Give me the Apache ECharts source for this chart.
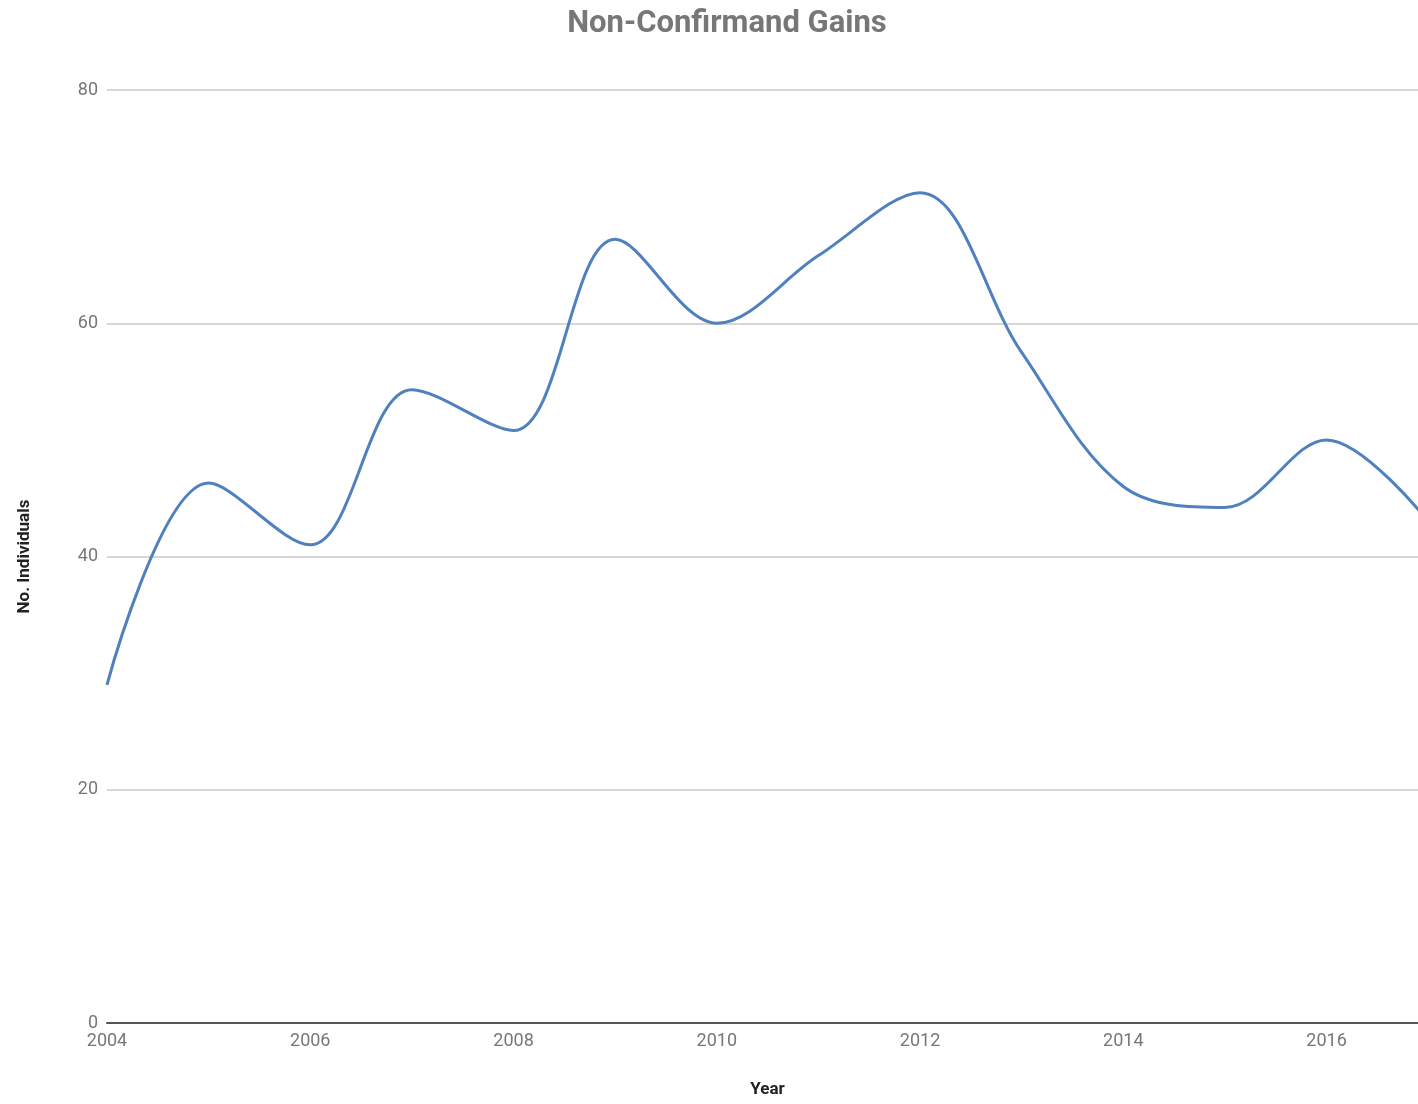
<!DOCTYPE html>
<html>
<head>
<meta charset="utf-8">
<script src="https://cdn.jsdelivr.net/npm/echarts@6/dist/echarts.min.js"></script>
<style>
  html, body { margin: 0; padding: 0; background: #fff; }
  #chart { width: 1418px; height: 1104px; }
</style>
</head>
<body>
<div id="chart"></div>
<script>
// data
const years = [2004, 2005, 2006, 2007, 2008, 2009, 2010, 2011, 2012, 2013, 2014, 2015, 2016, 2017];
const gains = [29, 46.3, 41, 54.3, 50.8, 67.2, 60, 65.8, 71.2, 57.5, 46, 44.2, 50, 43];
const yTicks = [0, 20, 40, 60, 80];

const myChart = echarts.init(document.getElementById('chart'));

myChart.setOption({
  animation: false,
  title: {
    text: 'Non-Confirmand Gains',
    left: 722,
    textAlign: 'center',
    top: 4,
    textStyle: { fontFamily: 'Roboto', fontSize: 31, fontWeight: 'bold', color: '#777' }
  },
  grid: { left: 107, right: 0, top: 90, bottom: 81 },
  xAxis: {
    type: 'value',
    min: 2004,
    max: 2016.9,
    interval: 2,
    name: 'Year',
    nameLocation: 'middle',
    nameGap: 58,
    nameTextStyle: { fontFamily: 'Roboto', fontSize: 17, fontWeight: 'bold', color: '#222', padding: [0, 0, 0, 10] },
    axisLine: { lineStyle: { color: '#555', width: 2 } },
    axisTick: { show: false },
    splitLine: { show: false },
    axisLabel: {
      showMaxLabel: false,
      margin: 9,
      fontFamily: 'Roboto', fontSize: 18, color: '#777',
      formatter: v => String(v)
    }
  },
  yAxis: {
    type: 'value',
    min: yTicks[0],
    max: yTicks[yTicks.length - 1],
    interval: 20,
    name: 'No. Individuals',
    nameLocation: 'middle',
    nameGap: 74,
    nameRotate: 90,
    nameTextStyle: { fontFamily: 'Roboto', fontSize: 17, fontWeight: 'bold', color: '#222' },
    axisLine: { show: false },
    axisTick: { show: false },
    axisLabel: { margin: 9, fontFamily: 'Roboto', fontSize: 18, color: '#777' },
    splitLine: { lineStyle: { color: '#c8c8c8', width: 1.5 } }
  },
  series: [{
    type: 'line',
    data: years.map((y, i) => [y, gains[i]]),
    smooth: 0.35,
    showSymbol: false,
    clip: true,
    lineStyle: { color: '#5080be', width: 3 }
  }]
});
</script>
</body>
</html>
